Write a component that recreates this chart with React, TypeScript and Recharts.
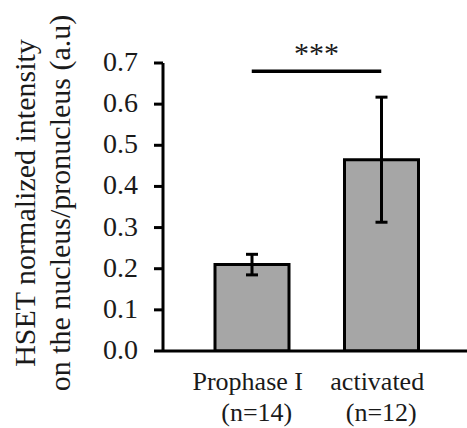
import { BarChart, Bar, XAxis, YAxis, ErrorBar, ReferenceLine } from 'recharts';

const categories = ['Prophase I', 'activated'];
const sampleSizes = ['(n=14)', '(n=12)'];
const means = [0.21, 0.465];
const errors = [0.025, 0.152];
const yTicks = [0, 0.1, 0.2, 0.3, 0.4, 0.5, 0.6, 0.7];
const significance = '***';
const significanceLevel = 0.68;
const yLabelLines = ['HSET normalized intensity', 'on the nucleus/pronucleus (a.u)'];

const FONT = "'Liberation Serif', 'Times New Roman', serif";
const TEXT = '#1a1a1a';

const data = categories.map((name, i) => ({
  name,
  n: sampleSizes[i],
  value: means[i],
  err: errors[i],
}));

// small nudges so the two label lines sit like the original (first line a bit left)
const lineShift = [
  [-4, 5],
  [-4, 0],
];

const CategoryTick = ({ x, y, payload, index }: any) => {
  const shift = lineShift[index] || [0, 0];
  return (
    <g>
      <text x={x + shift[0]} y={y + 31} textAnchor="middle" fontSize={26} fontFamily={FONT} fill={TEXT}>
        {payload.value}
      </text>
      <text x={x + shift[1]} y={y + 62} textAnchor="middle" fontSize={26} fontFamily={FONT} fill={TEXT}>
        {data[index] ? data[index].n : ''}
      </text>
    </g>
  );
};

const YTick = ({ x, y, payload }: any) => (
  <text x={x} y={y} dy={8} textAnchor="end" fontSize={28} fontFamily={FONT} fill={TEXT}>
    {Number(payload.value).toFixed(1)}
  </text>
);

const YAxisTitle = ({ viewBox }: any) => {
  const cy = viewBox.y + viewBox.height / 2 - 4;
  const xs = [35, 70];
  return (
    <g>
      {yLabelLines.map((line, i) => (
        <text
          key={i}
          x={xs[i]}
          y={cy}
          transform={`rotate(-90, ${xs[i]}, ${cy})`}
          textAnchor="middle"
          fontSize={30}
          fontFamily={FONT}
          fill={TEXT}
        >
          {line}
        </text>
      ))}
    </g>
  );
};

const SigLabel = ({ viewBox }: any) => {
  if (!viewBox) return null;
  const cx = viewBox.x + (viewBox.width || 0) / 2;
  return (
    <text x={cx} y={viewBox.y - 8.5} textAnchor="middle" fontSize={30} fontFamily={FONT} fill={TEXT}>
      {significance}
    </text>
  );
};

export default function App() {
  return (
    <div style={{ position: 'absolute', left: 0, top: 0, background: '#fff' }}>
      <BarChart
        width={467}
        height={428}
        data={data}
        margin={{ top: 63, right: 0, left: 0, bottom: 0 }}
      >
        <XAxis
          dataKey="name"
          height={77}
          padding={{ left: 24, right: 21 }}
          tickLine={false}
          axisLine={{ stroke: '#000', strokeWidth: 3 }}
          tick={<CategoryTick />}
          interval={0}
        />
        <YAxis
          width={163}
          domain={[0, 0.7]}
          ticks={yTicks}
          allowDataOverflow
          tickSize={9}
          tickMargin={16}
          axisLine={{ stroke: '#000', strokeWidth: 3 }}
          tickLine={{ stroke: '#000', strokeWidth: 3 }}
          tick={<YTick />}
          label={<YAxisTitle />}
        />
        <Bar
          dataKey="value"
          fill="#a6a6a6"
          stroke="#000"
          strokeWidth={3}
          barSize={74}
          isAnimationActive={false}
        >
          <ErrorBar dataKey="err" width={6} stroke="#000" strokeWidth={3} />
        </Bar>
        <ReferenceLine
          segment={[
            { x: categories[0], y: significanceLevel },
            { x: categories[1], y: significanceLevel },
          ]}
          stroke="#000"
          strokeWidth={3.5}
          ifOverflow="visible"
          label={<SigLabel />}
        />
      </BarChart>
    </div>
  );
}
